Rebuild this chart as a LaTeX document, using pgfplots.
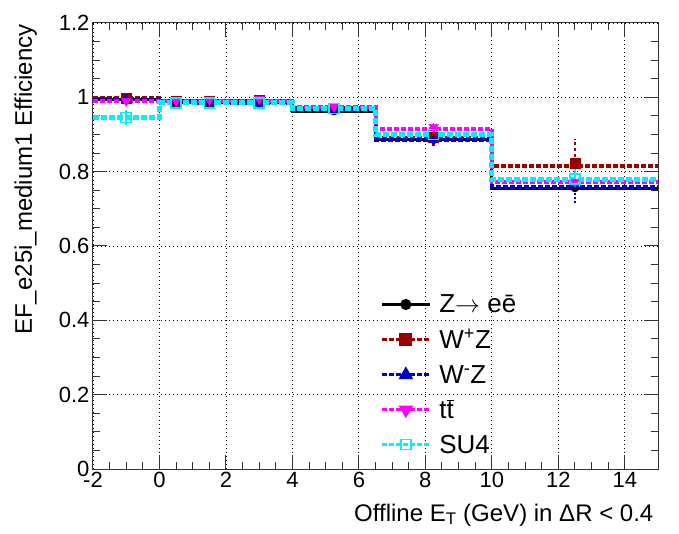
\documentclass[border=0pt]{standalone}
\usepackage{fontspec}
\setmainfont{Liberation Sans}
\usepackage{pgfplots}
\pgfplotsset{compat=1.18}
\definecolor{wpz}{HTML}{990000}
\definecolor{wmz}{HTML}{0000CC}
\definecolor{ttc}{HTML}{FF00FF}
\definecolor{su4}{HTML}{00F0FF}
\definecolor{axc}{HTML}{333333}
\begin{document}
\begin{tikzpicture}
\path[use as bounding box] (-93pt,-64pt) rectangle (586pt,469pt);
\begin{axis}[
  scale only axis, width=565pt, height=446pt,
  xmin=-2, xmax=15, ymin=0, ymax=1.2,
  xtick={-2,0,2,4,6,8,10,12,14},
  ytick={0,0.2,0.4,0.6,0.8,1,1.2},
  minor x tick num=3, minor y tick num=3,
  tick align=inside, tick pos=both,
  major tick length=14pt, minor tick length=7pt,
  grid=major,
  major grid style={black, line width=0.8pt, dash pattern=on 1pt off 3pt},
  axis line style={line width=1pt, axc},
  every tick/.style={line width=1pt, axc},
  ticklabel style={font=\fontsize{22}{26}\selectfont},
  /pgf/number format/assume math mode=true,
  xlabel={Offline E\textsubscript{T} (GeV) in ΔR < 0.4},
  ylabel={EF\_e25i\_medium1 Efficiency},
  label style={font=\fontsize{24}{28}\selectfont},
  xlabel style={at={(axis description cs:0.998,-0.1166)}, anchor=base east},
  ylabel style={at={(axis description cs:-0.108,1.005)}, anchor=base east},
  legend style={at={(axis cs:6.55,0.48)}, anchor=north west, draw=none, fill=none,
    font=\fontsize{26}{30}\selectfont, row sep=11pt, column sep=6pt},
  legend cell align=left,
  legend image code/.code={\draw[mark repeat=2,mark phase=2,#1] plot coordinates {(0pt,0pt) (24pt,0pt) (48pt,0pt)};},
]
% Z -> ee
\addplot[const plot, black, line width=3pt, forget plot] coordinates {
 (-2,0.993) (0,0.988) (1,0.986) (2,0.985) (4,0.963) (6.5,0.886) (10,0.756) (15,0.756)};
\addplot[only marks, black, mark=*, mark size=4pt, forget plot,
  error bars/.cd, y dir=both, y explicit, error mark=none, error bar style={line width=1.5pt}] coordinates {
 (-1,0.993) +- (0,0.003) (0.5,0.988) +- (0,0.003) (1.5,0.986) +- (0,0.003) (3,0.985) +- (0,0.002)
 (5.25,0.963) +- (0,0.003) (8.25,0.886) +- (0,0.005) (12.5,0.756) +- (0,0.01)};
% W+Z
\addplot[const plot, wpz, line width=4pt, dash pattern=on 5pt off 2pt, forget plot] coordinates {
 (-2,0.997) (0,0.990) (1,0.990) (2,0.990) (4,0.972) (6.5,0.890) (10,0.815) (15,0.815)};
\addplot[only marks, wpz, mark=square*, mark size=5pt, forget plot,
  error bars/.cd, y dir=both, y explicit, error mark=none, error bar style={line width=2.5pt, dash pattern=on 3pt off 3pt}] coordinates {
 (-1,0.998) +- (0,0.01) (0.5,0.990) +- (0,0.008) (1.5,0.990) +- (0,0.008) (3,0.992) +- (0,0.006)
 (5.25,0.970) +- (0,0.008) (8.25,0.892) +- (0,0.025) (12.5,0.822) +- (0,0.065)};
% W-Z
\addplot[const plot, wmz, line width=4pt, dash pattern=on 5pt off 2pt, forget plot] coordinates {
 (-2,0.994) (0,0.987) (1,0.985) (2,0.985) (4,0.965) (6.5,0.884) (10,0.760) (15,0.760)};
\addplot[only marks, wmz, mark=triangle*, mark size=5.5pt, forget plot,
  error bars/.cd, y dir=both, y explicit, error mark=none, error bar style={line width=1.5pt, dash pattern=on 2pt off 2pt}] coordinates {
 (-1,0.994) +- (0,0.01) (0.5,0.985) +- (0,0.01) (1.5,0.984) +- (0,0.01) (3,0.983) +- (0,0.008)
 (5.25,0.963) +- (0,0.01) (8.25,0.885) +- (0,0.02) (12.5,0.765) +- (0,0.05)};
% ttbar
\addplot[const plot, ttc, line width=4pt, dash pattern=on 5pt off 2pt, forget plot] coordinates {
 (-2,0.990) (0,0.990) (1,0.990) (2,0.990) (4,0.975) (6.5,0.915) (10,0.772) (15,0.772)};
\addplot[only marks, ttc, mark=triangle*, mark options={rotate=180}, mark size=5.5pt, forget plot,
  error bars/.cd, y dir=both, y explicit, error mark=none, error bar style={line width=1.5pt}] coordinates {
 (-1,0.990) +- (0,0.01) (0.5,0.990) +- (0,0.01) (1.5,0.993) +- (0,0.008) (3,0.995) +- (0,0.008)
 (5.25,0.975) +- (0,0.01) (8.25,0.920) +- (0,0.01) (12.5,0.772) +- (0,0.02)};
% SU4
\addplot[const plot, su4, line width=5pt, dash pattern=on 6pt off 2pt, forget plot] coordinates {
 (-2,0.946) (0,0.985) (1,0.985) (2,0.985) (4,0.970) (6.5,0.900) (10,0.780) (15,0.780)};
\addplot[only marks, su4, mark=square, mark size=5pt, mark options={line width=1.5pt}, forget plot,
  error bars/.cd, y dir=both, y explicit, error mark=none, error bar style={line width=1.5pt}] coordinates {
 (-1,0.946) +- (0,0.02) (0.5,0.985) +- (0,0.008) (1.5,0.985) +- (0,0.008) (3,0.985) +- (0,0.008)
 (5.25,0.970) +- (0,0.01) (8.25,0.900) +- (0,0.02) (12.5,0.780) +- (0,0.03)};
% legend
\addlegendimage{black, line width=3pt, mark=*, mark size=4pt, mark options={solid}}
\addlegendentry{Z$\rightarrow$ eē}
\addlegendimage{wpz, line width=3pt, dash pattern=on 5pt off 2pt, mark=square*, mark size=5pt, mark options={solid}}
\addlegendentry{W\textsuperscript{+}Z}
\addlegendimage{wmz, line width=3pt, dash pattern=on 5pt off 2pt, mark=triangle*, mark size=5.5pt, mark options={solid}}
\addlegendentry{W\textsuperscript{-}Z}
\addlegendimage{ttc, line width=3pt, dash pattern=on 5pt off 2pt, mark=triangle*, mark size=5.5pt, mark options={solid, rotate=180}}
\addlegendentry{t$\overline{\mbox{t}}$}
\addlegendimage{su4, line width=3pt, dash pattern=on 5pt off 2pt, mark=square, mark size=5pt, mark options={solid, line width=1.5pt}}
\addlegendentry{SU4}
\end{axis}
\end{tikzpicture}
\end{document}
